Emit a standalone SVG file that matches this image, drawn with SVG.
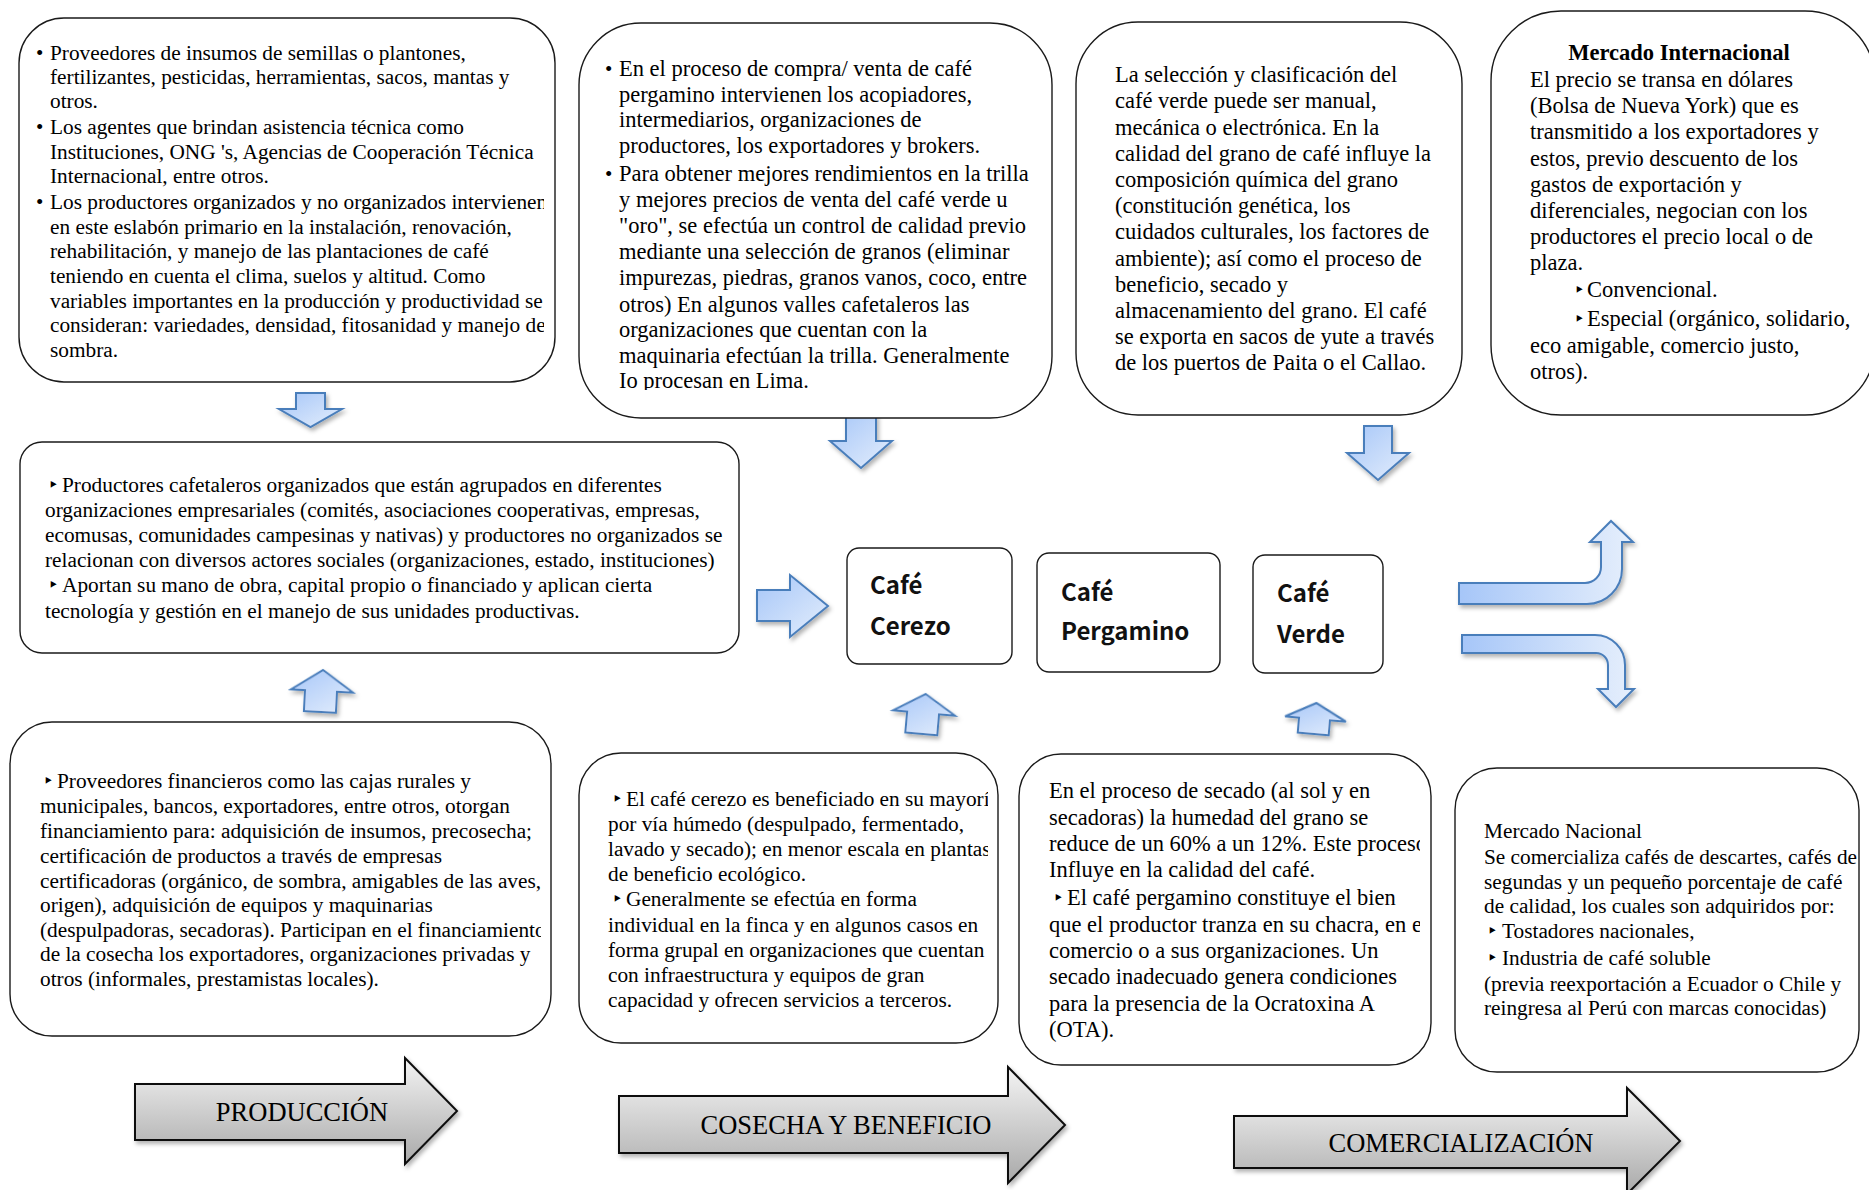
<svg xmlns="http://www.w3.org/2000/svg" width="1869" height="1190" viewBox="0 0 1869 1190">
<style>
.box{fill:#fff;stroke:#1a1a1a;stroke-width:1.4}
.t{font-family:"Liberation Serif","Times New Roman",serif;font-size:21.3px;fill:#000}
.l{font-size:22.5px}
.bul{font-family:"DejaVu Sans",sans-serif;font-size:18px;fill:#000}
.dot{font-family:"Liberation Serif",serif;font-size:21px;fill:#000}
.cafe{font-family:"Noto Sans CJK JP","Noto Sans",sans-serif;font-size:24px;font-weight:700;fill:#111}
.blue{fill:url(#gb);stroke:#4a7ebb;stroke-width:2;filter:url(#sh)}
.gray{fill:url(#gg);stroke:#111;stroke-width:2;filter:url(#sh)}
.big{font-family:"Liberation Serif","Times New Roman",serif;font-size:26.5px;fill:#000;text-anchor:middle}
</style>
<defs>
<linearGradient id="gb" x1="0" y1="0" x2="1" y2="1"><stop offset="0" stop-color="#a6c6f8"/><stop offset="1" stop-color="#e4eefc"/></linearGradient>
<linearGradient id="gbh" x1="0" y1="0" x2="1" y2="0"><stop offset="0" stop-color="#a6c6f8"/><stop offset="1" stop-color="#e6effc"/></linearGradient>
<linearGradient id="gg" x1="0" y1="0" x2="0" y2="1"><stop offset="0" stop-color="#f4f4f4"/><stop offset="1" stop-color="#a9a9a9"/></linearGradient>
<filter id="sh" x="-20%" y="-20%" width="140%" height="150%"><feDropShadow dx="2" dy="3" stdDeviation="2" flood-color="#000" flood-opacity="0.3"/></filter>
<clipPath id="c1"><rect x="0" y="0" width="544" height="400"/></clipPath>
<clipPath id="c2"><rect x="560" y="0" width="520" height="390"/></clipPath>
<clipPath id="c7"><rect x="0" y="700" width="541" height="360"/></clipPath>
<clipPath id="c8"><rect x="560" y="740" width="428" height="320"/></clipPath>
<clipPath id="c9"><rect x="1000" y="740" width="420" height="340"/></clipPath>
<clipPath id="c10"><rect x="1440" y="740" width="418" height="340"/></clipPath>
</defs>
<rect width="1869" height="1190" fill="#fff"/>

<g id="connectors">
<polygon class="blue" points="296,393 325,393 325,409 342,409 310.5,427 279,409 296,409"/>
<polygon class="blue" points="846,415 876,415 876,441 892,441 861,468 830,441 846,441"/>
<polygon class="blue" points="1364,426 1392,426 1392,453 1409,453 1378,480 1347,453 1364,453"/>
<polygon class="blue" points="757,590 790,590 790,575 828,606 790,637 790,621 757,621"/>
<polygon class="blue" points="322,670 353,691 337,691 337,712 305,712 305,691 291,691" transform="rotate(3 322 691)"/>
<polygon class="blue" points="924,694 955,713 939,713 939,734 907,734 907,713 893,713" transform="rotate(5 924 714)"/>
<polygon class="blue" points="1315,703 1346,719 1330,719 1330,734 1299,734 1299,719 1285,719" transform="rotate(5 1315 719)"/>
<path class="blue" style="fill:url(#gbh)" d="M1459,583 L1585,583 A16,16 0 0 0 1601,567 L1601,542 L1590,542 L1611,521 L1633,542 L1622,542 L1622,569 A35,35 0 0 1 1587,604 L1459,604 Z"/>
<path class="blue" style="fill:url(#gbh)" d="M1462,635 L1595,635 A30,30 0 0 1 1625,665 L1625,689 L1634,689 L1616,707 L1598,689 L1608,689 L1608,665 A12,12 0 0 0 1596,653 L1462,653 Z"/>
</g>

<g id="box-insumos">
<rect class="box" x="19" y="18" width="536" height="364" rx="45"/>
<g class="t" clip-path="url(#c1)">
<text class="dot" x="36" y="60">•</text>
<text x="50" y="60">Proveedores de insumos de semillas o plantones,</text>
<text x="50" y="84">fertilizantes, pesticidas, herramientas, sacos, mantas y</text>
<text x="50" y="108">otros.</text>
<text class="dot" x="36" y="134">•</text>
<text x="50" y="134">Los agentes que brindan asistencia técnica como</text>
<text x="50" y="159">Instituciones, ONG 's, Agencias de Cooperación Técnica</text>
<text x="50" y="183">Internacional, entre otros.</text>
<text class="dot" x="36" y="209">•</text>
<text x="50" y="209">Los productores organizados y no organizados intervienen</text>
<text x="50" y="234">en este eslabón primario en la instalación, renovación,</text>
<text x="50" y="258">rehabilitación, y manejo de las plantaciones de café</text>
<text x="50" y="283">teniendo en cuenta el clima, suelos y altitud. Como</text>
<text x="50" y="308">variables importantes en la producción y productividad se</text>
<text x="50" y="332">consideran: variedades, densidad, fitosanidad y manejo de</text>
<text x="50" y="357">sombra.</text>
</g>
</g>

<g id="box-acopio">
<rect class="box" x="579" y="23" width="473" height="395" rx="62"/>
<g class="t l" clip-path="url(#c2)">
<text class="dot" x="605" y="76">•</text>
<text x="619" y="76">En el proceso de compra/ venta de café</text>
<text x="619" y="102">pergamino intervienen los acopiadores,</text>
<text x="619" y="127">intermediarios, organizaciones de</text>
<text x="619" y="153">productores, los exportadores y brokers.</text>
<text class="dot" x="605" y="181">•</text>
<text x="619" y="181">Para obtener mejores rendimientos en la trilla</text>
<text x="619" y="207">y mejores precios de venta del café verde u</text>
<text x="619" y="233">"oro", se efectúa un control de calidad previo</text>
<text x="619" y="259">mediante una selección de granos (eliminar</text>
<text x="619" y="285">impurezas, piedras, granos vanos, coco, entre</text>
<text x="619" y="312">otros) En algunos valles cafetaleros las</text>
<text x="619" y="337">organizaciones que cuentan con la</text>
<text x="619" y="363">maquinaria efectúan la trilla. Generalmente</text>
<text x="619" y="388">Io procesan en Lima.</text>
</g>
</g>

<g id="box-seleccion">
<rect class="box" x="1076" y="22" width="386" height="393" rx="62"/>
<g class="t l">
<text x="1115" y="82">La selección y clasificación del</text>
<text x="1115" y="108">café verde puede ser manual,</text>
<text x="1115" y="135">mecánica o electrónica. En la</text>
<text x="1115" y="161">calidad del grano de café influye la</text>
<text x="1115" y="187">composición química del grano</text>
<text x="1115" y="213">(constitución genética, los</text>
<text x="1115" y="239">cuidados culturales, los factores de</text>
<text x="1115" y="266">ambiente); así como el proceso de</text>
<text x="1115" y="292">beneficio, secado y</text>
<text x="1115" y="318">almacenamiento del grano. El café</text>
<text x="1115" y="344">se exporta en sacos de yute a través</text>
<text x="1115" y="370">de los puertos de Paita o el Callao.</text>
</g>
</g>

<g id="box-mercado-internacional">
<rect class="box" x="1491" y="11" width="384" height="404" rx="70"/>
<g class="t l">
<text x="1679" y="60" font-weight="700" text-anchor="middle">Mercado Internacional</text>
<text x="1530" y="87">El precio se transa en dólares</text>
<text x="1530" y="113">(Bolsa de Nueva York) que es</text>
<text x="1530" y="139">transmitido a los exportadores y</text>
<text x="1530" y="166">estos, previo descuento de los</text>
<text x="1530" y="192">gastos de exportación y</text>
<text x="1530" y="218">diferenciales, negocian con los</text>
<text x="1530" y="244">productores el precio local o de</text>
<text x="1530" y="270">plaza.</text>
<text class="bul" x="1574" y="296">‣</text>
<text x="1587" y="297">Convencional.</text>
<text class="bul" x="1574" y="325">‣</text>
<text x="1587" y="326">Especial (orgánico, solidario,</text>
<text x="1530" y="353">eco amigable, comercio justo,</text>
<text x="1530" y="379">otros).</text>
</g>
</g>

<g id="box-productores">
<rect class="box" x="20" y="442" width="719" height="211" rx="22"/>
<g class="t">
<text class="bul" x="48" y="491">‣</text>
<text x="62" y="492">Productores cafetaleros organizados que están agrupados en diferentes</text>
<text x="45" y="517">organizaciones empresariales (comités, asociaciones cooperativas, empresas,</text>
<text x="45" y="542">ecomusas, comunidades campesinas y nativas) y productores no organizados se</text>
<text x="45" y="567">relacionan con diversos actores sociales (organizaciones, estado, instituciones)</text>
<text class="bul" x="48" y="591">‣</text>
<text x="62" y="592">Aportan su mano de obra, capital propio o financiado y aplican cierta</text>
<text x="45" y="618">tecnología y gestión en el manejo de sus unidades productivas.</text>
</g>
</g>

<g id="node-cafe-cerezo">
<rect class="box" x="847" y="548" width="165" height="116" rx="12"/>
<text class="cafe" x="870" y="594">Café</text>
<text class="cafe" x="870" y="635">Cerezo</text>
</g>
<g id="node-cafe-pergamino">
<rect class="box" x="1037" y="553" width="183" height="119" rx="12"/>
<text class="cafe" x="1061" y="601">Café</text>
<text class="cafe" x="1061" y="640">Pergamino</text>
</g>
<g id="node-cafe-verde">
<rect class="box" x="1253" y="555" width="130" height="118" rx="12"/>
<text class="cafe" x="1277" y="602">Café</text>
<text class="cafe" x="1277" y="643">Verde</text>
</g>

<g id="box-financieros">
<rect class="box" x="10" y="722" width="541" height="314" rx="42"/>
<g class="t" clip-path="url(#c7)">
<text class="bul" x="43" y="787">‣</text>
<text x="57" y="788">Proveedores financieros como las cajas rurales y</text>
<text x="40" y="813">municipales, bancos, exportadores, entre otros, otorgan</text>
<text x="40" y="838">financiamiento para: adquisición de insumos, precosecha;</text>
<text x="40" y="863">certificación de productos a través de empresas</text>
<text x="40" y="888">certificadoras (orgánico, de sombra, amigables de las aves,</text>
<text x="40" y="912">origen), adquisición de equipos y maquinarias</text>
<text x="40" y="937">(despulpadoras, secadoras). Participan en el financiamiento</text>
<text x="40" y="961">de la cosecha los exportadores, organizaciones privadas y</text>
<text x="40" y="986">otros (informales, prestamistas locales).</text>
</g>
</g>

<g id="box-beneficio">
<rect class="box" x="579" y="753" width="419" height="290" rx="42"/>
<g class="t" clip-path="url(#c8)">
<text class="bul" x="612" y="805">‣</text>
<text x="626" y="806">El café cerezo es beneficiado en su mayoría</text>
<text x="608" y="831">por vía húmedo (despulpado, fermentado,</text>
<text x="608" y="856">lavado y secado); en menor escala en plantas</text>
<text x="608" y="881">de beneficio ecológico.</text>
<text class="bul" x="612" y="905">‣</text>
<text x="626" y="906">Generalmente se efectúa en forma</text>
<text x="608" y="932">individual en la finca y en algunos casos en</text>
<text x="608" y="957">forma grupal en organizaciones que cuentan</text>
<text x="608" y="982">con infraestructura y equipos de gran</text>
<text x="608" y="1007">capacidad y ofrecen servicios a terceros.</text>
</g>
</g>

<g id="box-secado">
<rect class="box" x="1019" y="754" width="412" height="311" rx="42"/>
<g class="t l" clip-path="url(#c9)">
<text x="1049" y="798">En el proceso de secado (al sol y en</text>
<text x="1049" y="825">secadoras) la humedad del grano se</text>
<text x="1049" y="851">reduce de un 60% a un 12%. Este proceso</text>
<text x="1049" y="877">Influye en la calidad del café.</text>
<text class="bul" x="1053" y="904">‣</text>
<text x="1067" y="905">El café pergamino constituye el bien</text>
<text x="1049" y="932">que el productor tranza en su chacra, en el</text>
<text x="1049" y="958">comercio o a sus organizaciones. Un</text>
<text x="1049" y="984">secado inadecuado genera condiciones</text>
<text x="1049" y="1011">para la presencia de la Ocratoxina A</text>
<text x="1049" y="1037">(OTA).</text>
</g>
</g>

<g id="box-mercado-nacional">
<rect class="box" x="1455" y="768" width="404" height="304" rx="42"/>
<g class="t" clip-path="url(#c10)">
<text x="1484" y="838">Mercado Nacional</text>
<text x="1484" y="864">Se comercializa cafés de descartes, cafés de</text>
<text x="1484" y="889">segundas y un pequeño porcentaje de café</text>
<text x="1484" y="913">de calidad, los cuales son adquiridos por:</text>
<text class="bul" x="1487" y="937">‣</text>
<text x="1502" y="938">Tostadores nacionales,</text>
<text class="bul" x="1487" y="964">‣</text>
<text x="1502" y="965">Industria de café soluble</text>
<text x="1484" y="991">(previa reexportación a Ecuador o Chile y</text>
<text x="1484" y="1015">reingresa al Perú con marcas conocidas)</text>
</g>
</g>

<g id="stage-produccion">
<path class="gray" d="M135,1084 L405,1084 L405,1058 L457,1111 L405,1164 L405,1140 L135,1140 Z"/>
<text class="big" x="302" y="1121">PRODUCCIÓN</text>
</g>
<g id="stage-cosecha">
<path class="gray" d="M619,1096 L1008,1096 L1008,1067 L1065,1125 L1008,1183 L1008,1153 L619,1153 Z"/>
<text class="big" x="846" y="1134">COSECHA Y BENEFICIO</text>
</g>
<g id="stage-comercializacion">
<path class="gray" d="M1234,1116 L1627,1116 L1627,1088 L1680,1141 L1627,1194 L1627,1168 L1234,1168 Z"/>
<text class="big" x="1461" y="1152">COMERCIALIZACIÓN</text>
</g>
</svg>
